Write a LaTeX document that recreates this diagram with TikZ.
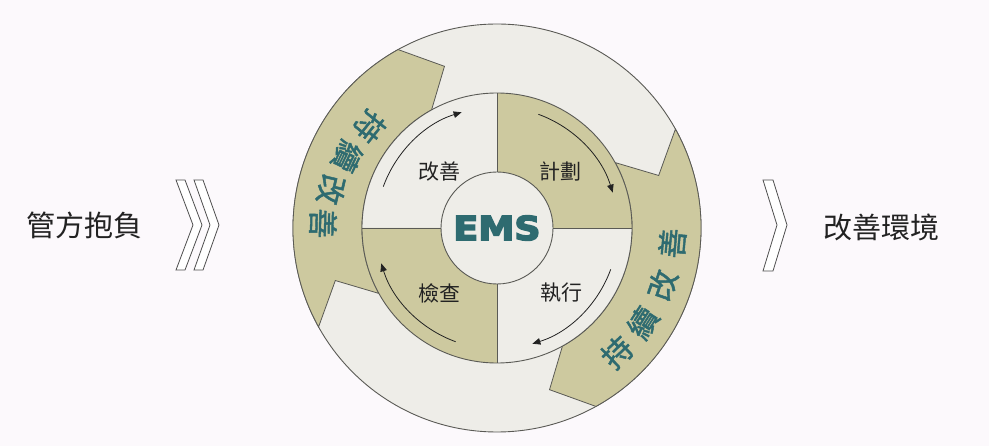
\documentclass[tikz,border=0pt]{standalone}
\usepackage{fontspec}
\newfontfamily\cjk{Noto Sans CJK TC}
\newfontfamily\cjkring{Noto Sans CJK TC}[FakeBold=1.5]
\newfontfamily\emsfont{DejaVu Sans}[BoldFeatures={FakeBold=4.5}]
\usetikzlibrary{arrows.meta,calc}
\definecolor{bg}{HTML}{FCF9FC}
\definecolor{olivefill}{HTML}{CDC99F}
\definecolor{ringgrey}{HTML}{EEEDE8}
\definecolor{tealtext}{HTML}{2E6B70}
\definecolor{edge}{HTML}{5A5A55}
\definecolor{ink}{HTML}{222222}
\tikzset{
  ringline/.style={draw=edge, line width=0.9pt},
  bandarrow/.style={fill=olivefill, draw=edge, line width=0.8pt, line join=miter},
  cyclearrow/.style={draw=ink, line width=0.8pt, -{Triangle[length=8pt,width=6.5pt]}},
  chevronbox/.style={fill=white, draw=ink!80, line width=0.8pt, line join=miter},
  quadlabel/.style={font=\cjk\fontsize{21}{21}\selectfont, text=ink, inner sep=0pt},
  sidelabel/.style={font=\cjk\fontsize{29}{29}\selectfont, text=ink, inner sep=0pt},
  ringtext/.style={font=\cjkring\fontsize{30}{30}\selectfont, text=tealtext, inner sep=0pt},
  emslabel/.style={font=\emsfont\bfseries\fontsize{33}{33}\selectfont, text=tealtext, inner sep=0pt, xscale=1.1}
}
\begin{document}
\begin{tikzpicture}[x=1pt,y=1pt]
\fill[bg] (0,0) rectangle (989,-446);
\useasboundingbox (0,0) rectangle (989,-446);
\coordinate (C) at (497,-228);
% outer ring
\filldraw[fill=ringgrey, ringline] (C) circle[radius=204];
\foreach \r in {0,180} {
  \path[bandarrow] ($(C)+(29+\r:204)$) arc[start angle=29+\r, end angle=-61+\r, radius=204]
    -- ($(C)+(-72+\r:170)$) -- ($(C)+(-61+\r:135)$)
    arc[start angle=-61+\r, end angle=29+\r, radius=135]
    -- ($(C)+(18+\r:170)$) -- cycle;
}
% inner ring quadrants
\fill[ringgrey] (C) circle[radius=135];
\fill[olivefill] (C) -- ($(C)+(0:135)$) arc[start angle=0, end angle=90, radius=135] -- cycle;
\fill[olivefill] (C) -- ($(C)+(180:135)$) arc[start angle=180, end angle=270, radius=135] -- cycle;
\draw[ringline] (C) circle[radius=135];
\foreach \a in {0,90,180,270} \draw[ringline] ($(C)+(\a:56)$) -- ($(C)+(\a:135)$);
\filldraw[fill=ringgrey, ringline] (C) circle[radius=56];
\node[emslabel] (ems) at (C) {EMS};
% cycle arrows
\foreach \s in {180,90,0,-90}
  \draw[cyclearrow] ($(C)+(\s-20:121)$) arc[start angle=\s-20, end angle=\s-73, radius=121];
% quadrant labels
\node[quadlabel] (improve) at (439.5,-171.5) {改善};
\node[quadlabel] (plan) at (560.5,-171.5) {計劃};
\node[quadlabel] (check) at (439.5,-293) {檢查};
\node[quadlabel] (do) at (561.5,-293) {執行};
% ring texts (right band)
\foreach \ch/\a/\d [count=\i] in {持/-46/173, 續/-33/174, 改/-19/175, 善/-5/176}
  \node[ringtext, rotate=\a+90] (rr\i) at ($(C)+(\a:\d)$) {\ch};
% ring texts (left band)
\foreach \ch/\a/\d [count=\i] in {持/141.5/163, 續/154.5/166, 改/167/170, 善/178.5/174}
  \node[ringtext, rotate=\a+90] (rl\i) at ($(C)+(\a:\d)$) {\ch};
% side labels
\node[sidelabel] (commit) at (85,-225) {管方抱負};
\node[sidelabel] (env) at (881,-227) {改善環境};
% chevrons
\path[chevronbox] (176,-180) -- (185,-180) -- (202,-225) -- (185,-270) -- (176,-270) -- (193,-225) -- cycle;
\path[chevronbox] (194,-180) -- (203,-180) -- (219,-225) -- (203,-270) -- (194,-270) -- (210,-225) -- cycle;
\path[chevronbox] (763,-180) -- (773,-180) -- (787,-225) -- (773,-271) -- (763,-271) -- (777,-225) -- cycle;
\end{tikzpicture}
\end{document}
